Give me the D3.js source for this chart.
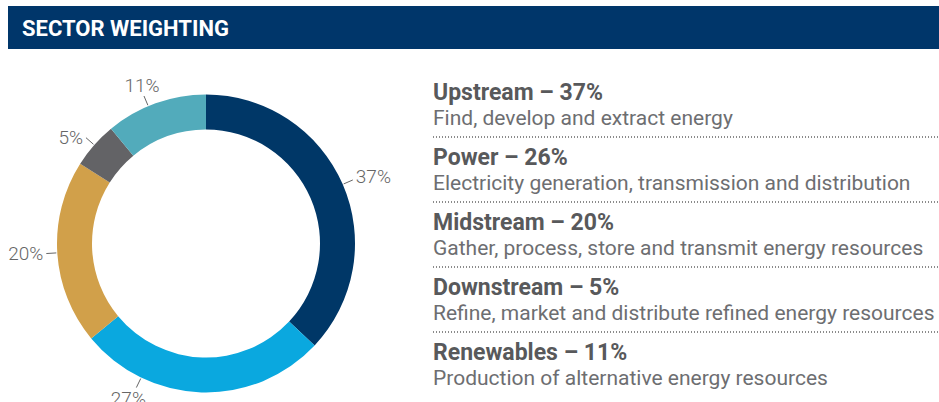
<!DOCTYPE html>
<html>
<head>
<meta charset="utf-8">
<script src="https://cdn.jsdelivr.net/npm/d3@7"></script>
<style>
  body { margin: 0; background: #fff; }
  svg { display: block; font-family: Roboto, "Noto Sans", sans-serif; }
</style>
</head>
<body>
<div id="chart"></div>
<script>
/** Sectors, in drawing order (clockwise from 12 o'clock). */
const sectors = ["Upstream", "Power", "Midstream", "Downstream", "Renewables"];

/** Weights shown on the donut. */
const weights = [37, 27, 20, 5, 11];

/** Weights shown in the legend titles. */
const legendWeights = [37, 26, 20, 5, 11];

const descriptions = [
    "Find, develop and extract energy",
    "Electricity generation, transmission and distribution",
    "Gather, process, store and transmit energy resources",
    "Refine, market and distribute refined energy resources",
    "Production of alternative energy resources"
];

const colors = ["#003767", "#0aa8df", "#d1a04a", "#636366", "#52abbb"];

/** Angle nudge for a label (degrees), to keep it off the frame. */
const labelShift = [0, 24, 0, 0, -3];

const WIDTH = 939;
const HEIGHT = 402;

/** Donut geometry. */
const CX = 206;
const CY = 243.5;
const OUTER = 149;
const INNER = 114;

let svg = d3.select("#chart").append("svg")
    .attr("width", WIDTH)
    .attr("height", HEIGHT);

// Header bar
svg.append("rect")
    .attr("x", 8)
    .attr("y", 6)
    .attr("width", WIDTH - 8)
    .attr("height", 43)
    .attr("fill", "#00366a");

svg.append("text")
    .attr("x", 22)
    .attr("y", 35.5)
    .attr("fill", "#fff")
    .attr("font-size", 22)
    .attr("font-weight", 700)
    .text("SECTOR WEIGHTING");

// Donut
const pie = d3.pie().sort(null).value(d => d);
const arcs = pie(weights);
const arc = d3.arc().innerRadius(INNER).outerRadius(OUTER);

const donut = svg.append("g")
    .attr("transform", `translate(${CX},${CY})`);

donut.selectAll("path")
    .data(arcs)
    .enter()
    .append("path")
    .attr("d", arc)
    .attr("fill", (d, i) => colors[i]);

// Labels with short leader lines
const labelAngle = (d, i) => (d.startAngle + d.endAngle) / 2 + labelShift[i] * Math.PI / 180;
const polar = (a, r) => [r * Math.sin(a), -r * Math.cos(a)];

const labels = donut.selectAll("g.label")
    .data(arcs)
    .enter()
    .append("g")
    .attr("class", "label");

labels.append("line")
    .attr("x1", (d, i) => polar(labelAngle(d, i), OUTER + 1)[0])
    .attr("y1", (d, i) => polar(labelAngle(d, i), OUTER + 1)[1])
    .attr("x2", (d, i) => polar(labelAngle(d, i), OUTER + 11)[0])
    .attr("y2", (d, i) => polar(labelAngle(d, i), OUTER + 11)[1])
    .attr("stroke", "#666")
    .attr("stroke-width", 1);

labels.append("text")
    .each(function (d, i) {
        const a = labelAngle(d, i);
        const s = Math.sin(a);
        const c = Math.cos(a);
        const [ex, ey] = polar(a, OUTER + 11);
        const t = d3.select(this);
        if (s > 0.5) {
            t.attr("x", ex + 3).attr("y", ey - 3).attr("text-anchor", "start")
                .attr("dominant-baseline", "central");
        } else if (s < -0.5) {
            t.attr("x", ex - 3).attr("y", ey).attr("text-anchor", "end")
                .attr("dominant-baseline", "central");
        } else if (c > 0) {
            t.attr("x", ex - 2).attr("y", ey - 4).attr("text-anchor", "middle");
        } else {
            t.attr("x", ex - 8).attr("y", ey + 17).attr("text-anchor", "middle");
        }
    })
    .attr("fill", "#666")
    .attr("font-size", 19)
    .attr("font-weight", 300)
    .text(d => d.data + "%");

// Legend
const y = d3.scaleBand()
    .domain(sectors)
    .range([70, 395]);

const rows = svg.selectAll("g.row")
    .data(sectors)
    .enter()
    .append("g")
    .attr("class", "row")
    .attr("transform", d => `translate(433,${y(d)})`);

rows.append("text")
    .attr("y", 30)
    .attr("fill", "#58595b")
    .attr("font-size", 23)
    .attr("font-weight", 700)
    .text((d, i) => `${d} – ${legendWeights[i]}%`);

rows.append("text")
    .attr("y", 55)
    .attr("fill", "#6d6e71")
    .attr("font-size", 21)
    .attr("font-weight", 400)
    .text((d, i) => descriptions[i]);

rows.filter((d, i) => i < sectors.length - 1)
    .append("line")
    .attr("x1", 0)
    .attr("x2", WIDTH - 433)
    .attr("y1", 67)
    .attr("y2", 67)
    .attr("stroke", "#666")
    .attr("stroke-width", 1.5)
    .attr("stroke-dasharray", "1,2");
</script>
</body>
</html>
